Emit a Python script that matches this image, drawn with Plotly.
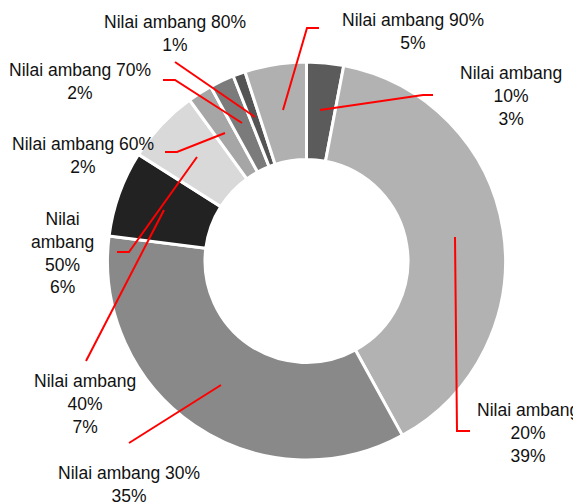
import plotly.graph_objects as go

# ---- data ----
categories = ["Nilai ambang 10%", "Nilai ambang 20%", "Nilai ambang 30%", "Nilai ambang 40%",
              "Nilai ambang 50%", "Nilai ambang 60%", "Nilai ambang 70%", "Nilai ambang 80%",
              "Nilai ambang 90%"]
values = [3, 39, 35, 7, 6, 2, 2, 1, 5]
colors = ["#5b5b5b", "#b2b2b2", "#898989", "#222222", "#d9d9d9",
          "#a6a6a6", "#7b7b7b", "#545454", "#b0b0b0"]

# label text blocks (line breaks as in the original) and their placement (window pixels)
label_lines = [
    ["Nilai ambang", "10%"],
    ["Nilai ambang", "20%"],
    ["Nilai ambang 30%"],
    ["Nilai ambang", "40%"],
    ["Nilai", "ambang", "50%"],
    ["Nilai ambang 60%"],
    ["Nilai ambang 70%"],
    ["Nilai ambang 80%"],
    ["Nilai ambang 90%"],
]
label_pos = [(511, 96), (528, 433), (129, 484), (85, 404), (62, 253),
             (83, 155), (80, 82), (175, 33), (413, 31)]
leader_paths = [
    [(320, 110), (423, 95), (433, 95)],
    [(455, 237), (457, 431), (470, 431)],
    [(221, 385), (129, 443)],
    [(164, 210), (86, 361)],
    [(197, 157), (129, 252), (117, 252)],
    [(225, 133), (177, 152), (165, 152)],
    [(242, 123), (175, 80), (163, 80)],
    [(255, 117), (175, 62)],
    [(283, 110), (307, 28), (319, 28)],
]

WIN_W, WIN_H = 581, 504
OFF = 8  # page body margin
W, H = WIN_W - OFF, WIN_H - OFF
FONT = "Liberation Sans Narrow, Arial Narrow, Liberation Sans, Arial, sans-serif"


def fx(x):
    return (x - OFF) / W


def fy(y):
    return 1 - (y - OFF) / H


fig = go.Figure(go.Pie(
    labels=categories, values=values, sort=False, direction="clockwise", rotation=0,
    hole=0.51, textinfo="none", hoverinfo="label+percent",
    marker=dict(colors=colors, line=dict(color="white", width=3)),
    domain=dict(x=[fx(107.5), fx(505.5)], y=[fy(460), fy(62)]),
    showlegend=False,
))

annotations = []
for lines, v, (x, y) in zip(label_lines, values, label_pos):
    annotations.append(dict(
        x=fx(x), y=fy(y), xref="paper", yref="paper", showarrow=False,
        text="<br>".join(lines + [f"{v}%"]), align="center",
        xanchor="center", yanchor="middle",
        font=dict(family=FONT, size=17.5, color="#111111"),
    ))

shapes = []
for pts in leader_paths:
    path = "M " + " L ".join(f"{fx(px):.5f},{fy(py):.5f}" for px, py in pts)
    shapes.append(dict(type="path", path=path, xref="paper", yref="paper",
                       line=dict(color="#ff0000", width=2)))

fig.update_layout(
    width=W, height=H, margin=dict(l=0, r=0, t=0, b=0),
    paper_bgcolor="white", plot_bgcolor="white",
    annotations=annotations, shapes=shapes,
)
fig.write_html("out.html")
